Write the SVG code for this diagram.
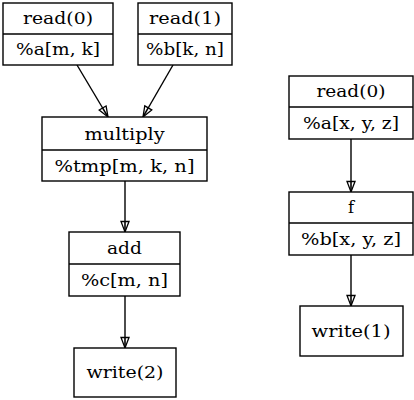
<svg xmlns="http://www.w3.org/2000/svg" width="414" height="400" viewBox="0 0 414 400">
<style>
  .box { fill: #fff; stroke: #000; stroke-width: 1.4; }
  .div { fill: none; stroke: #000; stroke-width: 1.4; }
  text { font-family: "DejaVu Serif", "Liberation Serif", serif; font-size: 16.5px; fill: #000; text-anchor: middle; }
  .edge { stroke: #000; stroke-width: 1.4; fill: none; marker-end: url(#arr); }
</style>
<defs>
  <marker id="arr" markerUnits="userSpaceOnUse" markerWidth="12" markerHeight="10" refX="11" refY="4.5" orient="auto" viewBox="0 0 12 9" overflow="visible">
    <path d="M0.5,0.5 L11,4.5 L0.5,8.5 Z" fill="#fff" stroke="#000" stroke-width="1.3"/>
    <path d="M0,4.5 L9.5,4.5" stroke="#000" stroke-width="1.6"/>
  </marker>
</defs>
<rect x="0" y="0" width="414" height="400" fill="#fff"/>
<g id="edges">
  <line class="edge" x1="77" y1="65" x2="108" y2="117"/>
  <line class="edge" x1="173" y1="65" x2="143" y2="117"/>
  <line class="edge" x1="125" y1="181" x2="125" y2="232"/>
  <line class="edge" x1="125" y1="296" x2="125" y2="348"/>
  <line class="edge" x1="351" y1="139" x2="351" y2="192"/>
  <line class="edge" x1="351" y1="255" x2="351" y2="306"/>
</g>
<g id="read0_a">
  <rect class="box" x="3" y="3" width="110" height="62"/>
  <line class="div" x1="3" y1="34" x2="113" y2="34"/>
  <text x="58" y="24" textLength="70" lengthAdjust="spacingAndGlyphs">read(0)</text>
  <text x="58" y="55" textLength="84" lengthAdjust="spacingAndGlyphs">%a[m, k]</text>
</g>
<g id="read1">
  <rect class="box" x="138" y="3" width="94" height="62"/>
  <line class="div" x1="138" y1="34" x2="232" y2="34"/>
  <text x="185" y="24" textLength="72" lengthAdjust="spacingAndGlyphs">read(1)</text>
  <text x="185" y="55" textLength="78" lengthAdjust="spacingAndGlyphs">%b[k, n]</text>
</g>
<g id="multiply">
  <rect class="box" x="42" y="117" width="165" height="64"/>
  <line class="div" x1="42" y1="150" x2="207" y2="150"/>
  <text x="124.5" y="140" textLength="80" lengthAdjust="spacingAndGlyphs">multiply</text>
  <text x="124.5" y="172" textLength="140" lengthAdjust="spacingAndGlyphs">%tmp[m, k, n]</text>
</g>
<g id="add">
  <rect class="box" x="69" y="232" width="111" height="64"/>
  <line class="div" x1="69" y1="264" x2="180" y2="264"/>
  <text x="124.5" y="254" textLength="35" lengthAdjust="spacingAndGlyphs">add</text>
  <text x="124.5" y="286" textLength="87" lengthAdjust="spacingAndGlyphs">%c[m, n]</text>
</g>
<g id="write2">
  <rect class="box" x="74" y="348" width="102" height="49"/>
  <text x="125" y="378" textLength="77" lengthAdjust="spacingAndGlyphs">write(2)</text>
</g>
<g id="read0_b">
  <rect class="box" x="289" y="76" width="124" height="63"/>
  <line class="div" x1="289" y1="107" x2="413" y2="107"/>
  <text x="351" y="97" textLength="69" lengthAdjust="spacingAndGlyphs">read(0)</text>
  <text x="351" y="129" textLength="96" lengthAdjust="spacingAndGlyphs">%a[x, y, z]</text>
</g>
<g id="f">
  <rect class="box" x="289" y="192" width="124" height="63"/>
  <line class="div" x1="289" y1="223" x2="413" y2="223"/>
  <text x="351" y="213">f</text>
  <text x="351" y="245" textLength="100" lengthAdjust="spacingAndGlyphs">%b[x, y, z]</text>
</g>
<g id="write1">
  <rect class="box" x="300" y="306" width="103" height="50"/>
  <text x="351" y="337" textLength="79" lengthAdjust="spacingAndGlyphs">write(1)</text>
</g>
</svg>
